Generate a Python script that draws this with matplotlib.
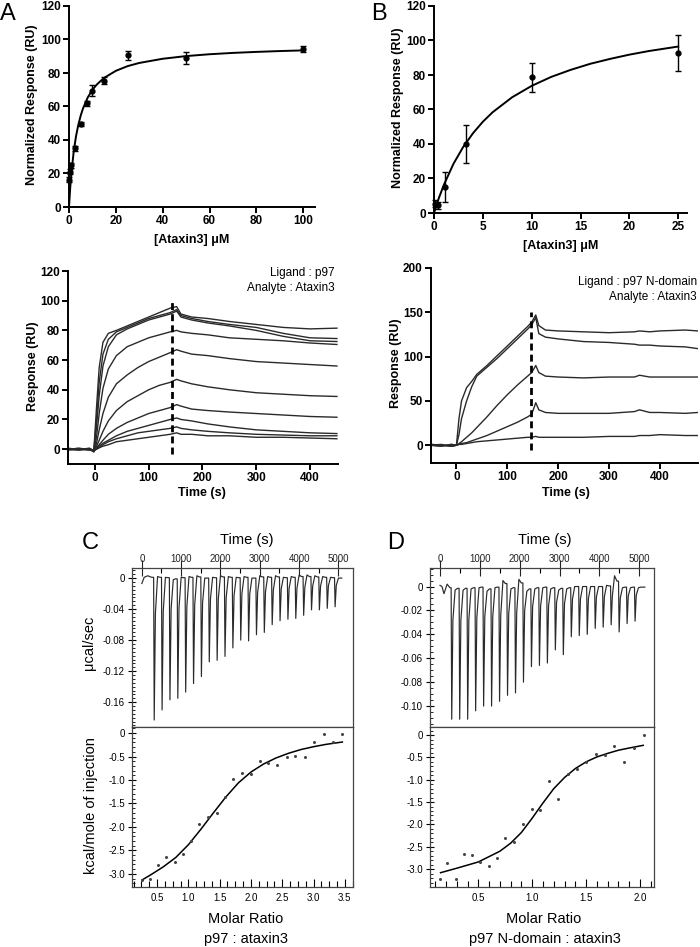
import matplotlib
matplotlib.use('Agg')
import matplotlib.pyplot as plt
from matplotlib.ticker import MultipleLocator

plt.rcParams['font.family'] = ['Liberation Sans', 'DejaVu Sans']

# ---- Panel A (top): binding isotherm p97 ----
a_conc = [0.1, 0.5, 1, 2.5, 5, 7.5, 10, 15, 25, 50, 100]
a_resp = [16.3, 21, 25, 35, 49.5, 62, 69.5, 75.5, 90.5, 89, 94.5]
a_err = [1.5, 1.5, 1.5, 1.5, 1.2, 1.5, 3.3, 2.0, 2.5, 3.5, 1.7]
a_fit_x = [0, 0.5, 1, 2, 3, 4, 5, 6, 8, 10, 12, 15, 20, 25, 30, 40, 50, 60, 70, 80, 90, 100]
a_fit_y = [0, 11.1, 19.9, 33.0, 42.3, 49.2, 54.6, 58.9, 65.4, 70.0, 73.3, 77.1, 81.3,
           84.1, 86.0, 88.5, 90.1, 91.2, 92.0, 92.6, 93.1, 93.5]

# ---- Panel B (top): binding isotherm p97 N-domain ----
b_conc = [0.12, 0.37, 1.1, 3.3, 10, 25]
b_resp = [5.4, 4.4, 15, 40, 78.7, 92.6]
b_err = [2.0, 2.0, 8.5, 11, 8.5, 10.3]
b_fit_x = [0, 0.5, 1, 2, 3, 4, 5, 6, 8, 10, 12, 14, 16, 18, 20, 22, 25]
b_fit_y = [0, 8.7, 16.2, 28.6, 38.4, 46.3, 52.9, 58.4, 67.1, 73.7, 78.9, 83.0, 86.5,
           89.3, 91.8, 93.9, 96.5]

# ---- SPR sensorgrams, ligand p97 ----
spr_a_t = [-50, -30, -10, -2, 3, 8, 15, 25, 40, 60, 80, 100, 120, 140, 152, 160, 180,
           210, 250, 300, 350, 400, 450]
spr_a_traces = [
    [0.5, -0.5, 0.3, -1.5, 28, 55, 72, 78, 80, 83, 86, 89, 92, 95, 96, 91, 89, 88, 86, 84, 82, 81, 81.5],
    [0, 0.5, -0.5, -1, 20, 45, 64, 74, 79, 82, 85, 88, 90, 92, 94, 90, 88, 86, 84, 82, 78, 75, 74.5],
    [-0.5, 0, 0.5, -2, 15, 36, 56, 69, 77, 81, 84, 87, 89, 91, 93, 89, 87, 85, 83, 80, 76, 73, 72.5],
    [0, -0.5, 0.5, -1, 8, 24, 41, 54, 63, 69, 72, 75, 77, 79, 80, 79, 78, 77, 75, 74, 73, 71.5, 70.5],
    [0.5, 0, -0.5, -1.5, 4, 13, 24, 35, 44, 50, 55, 59, 62, 65, 67, 66, 64, 63, 61, 59, 58, 57, 56],
    [0, 0.5, 0, -1, 2, 6, 12, 19, 26, 32, 36, 40, 43, 45, 47, 46, 44, 42, 40, 38, 37, 36, 35.5],
    [-0.5, 0, 0.5, -1, 1, 3, 6, 10, 14, 18, 21, 24, 26, 28, 30, 29, 27, 26, 25, 24, 23, 22, 21.5],
    [0, -0.5, 0, -1.5, 0.5, 2, 4, 6, 9, 12, 14, 16, 18, 20, 21, 20, 19, 17, 15, 13, 12, 11, 10.5],
    [0.5, 0, -0.5, -1, 0, 1, 3, 5, 7, 9, 11, 12, 13, 14, 15, 14, 13, 12, 11, 10, 9.5, 9, 9],
    [0, 0.5, 0, -1, 0, 1, 2, 3, 5, 6, 7, 8, 9, 10, 11, 10, 10, 9, 9, 8, 8, 7.5, 7],
]

# ---- SPR sensorgrams, ligand p97 N-domain ----
spr_b_t = [-50, -30, -10, 0, 5, 10, 20, 30, 40, 60, 80, 100, 120, 140, 148, 156, 162,
           175, 200, 250, 300, 350, 360, 380, 400, 450, 475]
spr_b_traces = [
    [0, -1, 1, 0, 30, 50, 65, 72, 80, 90, 101, 112, 123, 134, 139, 147, 135, 130, 129, 128,
     127, 128, 129, 128, 129, 130, 129],
    [1, 0, -1, 0, 12, 30, 50, 66, 78, 88, 98, 109, 120, 131, 136, 144, 126, 122, 120, 117,
     116, 114, 113, 113, 112, 111, 109],
    [0, 1, -1, 0, 2, 4, 9, 14, 20, 32, 45, 57, 68, 78, 82, 90, 82, 78, 77, 76, 77, 77, 79,
     77, 77, 77, 77],
    [0, -1, 1, 0, 1, 2, 3, 5, 7, 11, 16, 21, 26, 32, 35, 48, 40, 37, 36, 36, 36, 38, 40, 37,
     37, 36, 37],
    [1, 0, -1, 0, 1, 1, 2, 3, 4, 5, 6, 7, 8, 9, 9, 10, 9, 9, 9, 9, 10, 10, 11, 11, 12, 11, 11],
]

# ---- ITC C: p97 : ataxin3 ----
c_inj_t = [300, 500, 700, 900, 1100, 1300, 1500, 1700, 1900, 2100, 2300, 2500, 2700, 2900,
           3100, 3300, 3500, 3700, 3900, 4100, 4300, 4500, 4700, 4900]
c_peaks = [-0.183, -0.170, -0.157, -0.155, -0.147, -0.136, -0.127, -0.108, -0.106, -0.101,
           -0.090, -0.080, -0.081, -0.073, -0.070, -0.060, -0.055, -0.053, -0.052, -0.048,
           -0.041, -0.041, -0.039, -0.037]
c_humps = [0.002, 0.001, -0.002, 0.001, 0.002, 0.003, 0.000, 0.001, 0.003, 0.002, 0.001,
           0.002, 0.000, 0.003, 0.002, 0.003, 0.001, 0.002, 0.004, 0.004, 0.003, 0.002,
           0.001, 0.000]
c_pre_t = [0, 60, 150, 250]
c_pre_y = [-0.007, 0.001, 0.003, 0.001]
c_ratio = [0.26, 0.39, 0.52, 0.65, 0.78, 0.91, 1.04, 1.17, 1.31, 1.45, 1.58, 1.72, 1.86,
           2.00, 2.14, 2.28, 2.42, 2.57, 2.71, 2.86, 3.01, 3.16, 3.31, 3.46]
c_heat = [-3.13, -3.11, -2.82, -2.63, -2.74, -2.58, -2.31, -1.94, -1.78, -1.71, -1.37,
          -0.98, -0.84, -0.87, -0.60, -0.64, -0.69, -0.52, -0.48, -0.52, -0.18, -0.02,
          -0.20, -0.02]
c_fit_x = [0.26, 0.4, 0.6, 0.8, 1.0, 1.2, 1.4, 1.6, 1.8, 2.0, 2.2, 2.4, 2.6, 2.8, 3.0, 3.2, 3.46]
c_fit_y = [-3.13, -3.02, -2.85, -2.65, -2.38, -2.05, -1.70, -1.36, -1.06, -0.83, -0.66,
           -0.53, -0.43, -0.35, -0.29, -0.24, -0.19]

# ---- ITC D: p97 N-domain : ataxin3 ----
d_inj_t = [280, 480, 680, 880, 1080, 1280, 1480, 1680, 1880, 2080, 2280, 2480, 2680, 2880,
           3080, 3280, 3480, 3680, 3880, 4080, 4280, 4480, 4680, 4880]
d_peaks = [-0.111, -0.111, -0.111, -0.104, -0.100, -0.100, -0.096, -0.091, -0.089, -0.080,
           -0.067, -0.066, -0.064, -0.053, -0.057, -0.042, -0.041, -0.040, -0.035, -0.034,
           -0.032, -0.038, -0.031, -0.029]
d_humps = [-0.003, -0.003, -0.002, -0.001, -0.004, -0.001, 0.005, -0.002, 0.006, -0.004,
           -0.002, -0.001, -0.002, -0.003, -0.002, 0.000, 0.000, 0.000, 0.000, 0.001,
           0.009, -0.001, -0.001, -0.001]
d_pre_t = [0, 50, 100, 180, 250]
d_pre_y = [0.001, 0.0, -0.006, 0.002, -0.001]
d_ratio = [0.144, 0.212, 0.293, 0.367, 0.444, 0.519, 0.596, 0.673, 0.747, 0.831, 0.914,
           0.995, 1.075, 1.159, 1.239, 1.332, 1.412, 1.499, 1.589, 1.678, 1.762, 1.852,
           1.944, 2.037]
d_heat = [-3.23, -2.86, -3.22, -2.67, -2.69, -2.83, -2.92, -2.74, -2.30, -2.39, -1.98,
          -1.65, -1.67, -1.03, -1.43, -0.87, -0.75, -0.61, -0.43, -0.45, -0.25, -0.60,
          -0.28, 0.01]
d_fit_x = [0.15, 0.3, 0.5, 0.7, 0.8, 0.9, 1.0, 1.1, 1.2, 1.3, 1.4, 1.5, 1.6, 1.7, 1.8, 1.9, 2.03]
d_fit_y = [-3.08, -2.98, -2.84, -2.60, -2.42, -2.18, -1.86, -1.52, -1.20, -0.95, -0.75,
           -0.60, -0.49, -0.41, -0.34, -0.29, -0.23]

W, H = 700, 947
fig = plt.figure(figsize=(W / 100, H / 100), dpi=100)


def ax_px(l, t, r, b):
    return fig.add_axes([l / W, 1 - b / H, (r - l) / W, (b - t) / H])


def ftext(x, y, s, **kw):
    fig.text(x / W, 1 - y / H, s, **kw)


def style_prism(ax):
    for s in ['top', 'right']:
        ax.spines[s].set_visible(False)
    for s in ['left', 'bottom']:
        ax.spines[s].set_linewidth(1.4)
    ax.tick_params(width=1.4, length=4, labelsize=8.5, pad=2)
    for lab in ax.get_xticklabels() + ax.get_yticklabels():
        lab.set_fontweight('bold')


def thermogram(ax, pre_t, pre_y, inj_t, peaks, humps, t_end):
    ts, ys = list(pre_t), list(pre_y)
    for t, p, h in zip(inj_t, peaks, humps):
        ts += [t, t + 15, t + 45, t + 100, t + 160]
        ys += [ys[-1], p, 0.25 * p, h, 0.5 * h]
    ts.append(t_end)
    ys.append(ys[-1])
    ax.plot(ts, ys, color='#2a2a2a', lw=0.85)


def zero_fmt(fmt):
    return plt.FuncFormatter(lambda v, _: '0' if abs(v) < 1e-9 else (fmt % v))


def style_itc(ax_top, ax_bot, ylim_top, ylim_bot, xlim_bot, ymaj_top, ymin_top, xmin_bot):
    for ax in (ax_top, ax_bot):
        for s in ax.spines.values():
            s.set_linewidth(0.9)
            s.set_color('#444444')
    ax_top.set_xlim(-250, 5370)
    ax_top.set_ylim(*ylim_top)
    ax_top.xaxis.tick_top()
    ax_top.xaxis.set_major_locator(MultipleLocator(1000))
    ax_top.xaxis.set_minor_locator(MultipleLocator(500))
    ax_top.tick_params(axis='x', which='major', direction='inout', length=11, pad=-2.5,
                       labelsize=7, width=0.8, colors='#222222')
    ax_top.tick_params(axis='x', which='minor', direction='in', length=3.5, width=0.8)
    ax_top.yaxis.set_major_locator(MultipleLocator(ymaj_top))
    ax_top.yaxis.set_minor_locator(MultipleLocator(ymin_top))
    ax_top.tick_params(axis='y', which='major', direction='inout', length=6, pad=2,
                       labelsize=7, width=0.8)
    ax_top.tick_params(axis='y', which='minor', direction='in', length=2.5, width=0.6)
    ax_top.yaxis.set_major_formatter(zero_fmt('%.2f'))

    ax_bot.set_xlim(*xlim_bot)
    ax_bot.set_ylim(*ylim_bot)
    ax_bot.xaxis.set_major_locator(MultipleLocator(0.5))
    ax_bot.xaxis.set_minor_locator(MultipleLocator(xmin_bot))
    ax_bot.xaxis.set_major_formatter(plt.FormatStrFormatter('%.1f'))
    ax_bot.yaxis.set_major_locator(MultipleLocator(0.5))
    ax_bot.yaxis.set_minor_locator(MultipleLocator(0.1))
    ax_bot.yaxis.set_major_formatter(zero_fmt('%.1f'))
    ax_bot.tick_params(axis='x', which='major', direction='in', length=6, pad=4,
                       labelsize=7, width=0.8)
    ax_bot.tick_params(axis='x', which='minor', direction='in', length=4, width=0.8)
    ax_bot.tick_params(axis='y', which='major', direction='inout', length=6, pad=2,
                       labelsize=7, width=0.8)
    ax_bot.tick_params(axis='y', which='minor', direction='in', length=2.5, width=0.6)


# ---------------- Panel A top ----------------
axA = ax_px(69, 6, 315, 207)
axA.plot(a_fit_x, a_fit_y, color='black', lw=1.4)
axA.errorbar(a_conc, a_resp, yerr=a_err, fmt='o', color='black', ms=3.5, capsize=2.5,
             elinewidth=1, capthick=1, clip_on=False)
axA.set_xlim(0, 105)
axA.set_ylim(0, 120)
axA.xaxis.set_major_locator(MultipleLocator(20))
axA.yaxis.set_major_locator(MultipleLocator(20))
style_prism(axA)

# ---------------- Panel B top ----------------
axB = ax_px(434, 6, 687, 213)
axB.plot(b_fit_x, b_fit_y, color='black', lw=1.4)
axB.errorbar(b_conc, b_resp, yerr=b_err, fmt='o', color='black', ms=3.5, capsize=2.5,
             elinewidth=1, capthick=1, clip_on=False)
axB.set_xlim(0, 25.9)
axB.set_ylim(0, 120)
axB.xaxis.set_major_locator(MultipleLocator(5))
axB.yaxis.set_major_locator(MultipleLocator(20))
style_prism(axB)

# ---------------- SPR A ----------------
axSA = ax_px(68, 271, 338, 464)
for tr in spr_a_traces:
    axSA.plot(spr_a_t, tr, color='#2a2a2a', lw=1.0)
axSA.plot([143, 143], [-3, 101], color='black', lw=2, ls=(0, (2.5, 1.5)))
axSA.set_xlim(-50, 452)
axSA.set_ylim(-10, 120)
axSA.xaxis.set_major_locator(MultipleLocator(100))
axSA.yaxis.set_major_locator(MultipleLocator(20))
style_prism(axSA)

# ---------------- SPR B ----------------
axSB = ax_px(431, 268, 698, 463)
for tr in spr_b_traces:
    axSB.plot(spr_b_t, tr, color='#2a2a2a', lw=1.0)
axSB.plot([146, 146], [-5, 150], color='black', lw=2, ls=(0, (2.5, 1.5)))
axSB.set_xlim(-50, 475)
axSB.set_ylim(-20, 200)
axSB.xaxis.set_major_locator(MultipleLocator(100))
axSB.yaxis.set_major_locator(MultipleLocator(50))
style_prism(axSB)

# ---------------- ITC C ----------------
axCt = ax_px(132, 568, 353, 727)
axCb = ax_px(132, 727, 353, 887)
thermogram(axCt, c_pre_t, c_pre_y, c_inj_t, c_peaks, c_humps, 5085)
axCb.plot(c_fit_x, c_fit_y, color='black', lw=1.1)
axCb.plot(c_ratio, c_heat, 'o', color='#444444', ms=2.2, mew=0)
style_itc(axCt, axCb, (-0.192, 0.013), (-3.28, 0.13), (0.10, 3.63), 0.04, 0.005, 0.125)

# ---------------- ITC D ----------------
axDt = ax_px(430, 568, 654, 727)
axDb = ax_px(430, 727, 654, 887)
thermogram(axDt, d_pre_t, d_pre_y, d_inj_t, d_peaks, d_humps, 5140)
axDb.plot(d_fit_x, d_fit_y, color='black', lw=1.1)
axDb.plot(d_ratio, d_heat, 'o', color='#444444', ms=2.2, mew=0)
style_itc(axDt, axDb, (-0.1175, 0.0155), (-3.40, 0.18), (0.052, 2.13), 0.02, 0.005, 0.1)

# ---------------- Texts ----------------
bold = dict(fontsize=9, fontweight='bold', ha='center', va='center')
ftext(192, 240, '[Ataxin3] μM', **bold)
ftext(561, 246, '[Ataxin3] μM', **bold)
ftext(32, 105, 'Normalized Response (RU)', rotation=90, **bold)
ftext(398, 108, 'Normalized Response (RU)', rotation=90, **bold)
ftext(33, 366, 'Response (RU)', rotation=90, **bold)
ftext(396, 363, 'Response (RU)', rotation=90, **bold)
ftext(202, 493, 'Time (s)', **bold)
ftext(566, 493, 'Time (s)', **bold)

norm = dict(fontsize=8.5, ha='right', va='center')
ftext(335, 273, 'Ligand : p97', **norm)
ftext(335, 288, 'Analyte : Ataxin3', **norm)
ftext(697, 282, 'Ligand : p97 N-domain', **norm)
ftext(697, 297, 'Analyte : Ataxin3', **norm)

itc = dict(fontsize=10.5, ha='center', va='center')
ftext(247, 540, 'Time (s)', **itc)
ftext(545, 540, 'Time (s)', **itc)
ftext(89, 643, 'μcal/sec', rotation=90, **itc)
ftext(91, 806, 'kcal/mole of injection', rotation=90, **itc)
ftext(246, 919, 'Molar Ratio', **itc)
ftext(246, 939, 'p97 : ataxin3', **itc)
ftext(544, 919, 'Molar Ratio', **itc)
ftext(545, 939, 'p97 N-domain : ataxin3', **itc)

letters = dict(fontsize=17, ha='left', va='top')
ftext(0, 3, 'A', **letters)
ftext(371, 3, 'B', **letters)
ftext(82, 532, 'C', **letters)
ftext(387, 532, 'D', **letters)

fig.savefig('out.png', dpi=100)
